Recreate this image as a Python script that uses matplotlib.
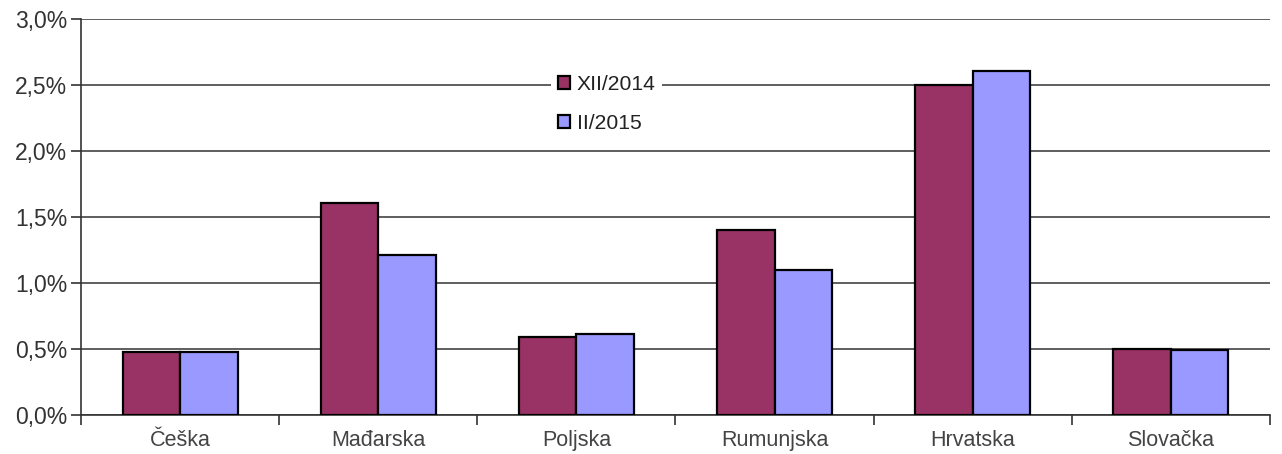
import numpy as np
import matplotlib.pyplot as plt
from matplotlib.ticker import FuncFormatter

plt.rcParams['font.family'] = ['Liberation Sans', 'DejaVu Sans']

countries = ['Češka', 'Mađarska', 'Poljska', 'Rumunjska', 'Hrvatska', 'Slovačka']
xii_2014 = [0.48, 1.61, 0.59, 1.40, 2.50, 0.50]
ii_2015 = [0.48, 1.21, 0.61, 1.10, 2.61, 0.49]
series_labels = ['XII/2014', 'II/2015']

fig = plt.figure(figsize=(12.82, 4.54), dpi=100)
ax = fig.add_axes([0.0632, 0.0859, 0.9274, 0.8721])

x = np.arange(len(countries))
w = 0.29
ax.bar(x - w/2, xii_2014, w, color='#993366', edgecolor='black', linewidth=1.6,
       label=series_labels[0], zorder=3)
ax.bar(x + w/2, ii_2015, w, color='#9999FF', edgecolor='black', linewidth=1.6,
       label=series_labels[1], zorder=3)

ax.set_xlim(-0.5, len(countries) - 0.5)
ax.set_ylim(0, 3.0)
ax.set_yticks(np.arange(0, 3.01, 0.5))
ax.yaxis.set_major_formatter(FuncFormatter(lambda v, p: f'{v:.1f}%'.replace('.', ',')))
ax.grid(axis='y', color='#333333', linewidth=1.1, zorder=1)

ax.set_xticks(x)
ax.set_xticklabels(countries)
ax.set_xticks(np.arange(-0.5, len(countries)), minor=True)
ax.tick_params(axis='x', which='major', length=0, pad=11, labelsize=15.5, labelcolor='#444444')
ax.tick_params(axis='x', which='minor', length=7, width=1.2, color='#333333')
ax.tick_params(axis='y', length=7, width=1.2, color='#333333', labelsize=16.5,
               labelcolor='#333333', pad=3)

for s in ['top', 'right']:
    ax.spines[s].set_visible(False)
for s in ['left', 'bottom']:
    ax.spines[s].set_color('#333333')
    ax.spines[s].set_linewidth(1.2)

leg = ax.legend(loc='center', bbox_to_anchor=(0.442, 0.785), frameon=True,
                facecolor='white', edgecolor='none', framealpha=1, fancybox=False,
                handlelength=0.6, handleheight=0.6, handletextpad=0.3,
                labelspacing=0.95, fontsize=15.2, borderpad=0.3)
for t in leg.get_texts():
    t.set_color('#222222')
leg.set_zorder(5)

fig.savefig('out.png', dpi=100)
